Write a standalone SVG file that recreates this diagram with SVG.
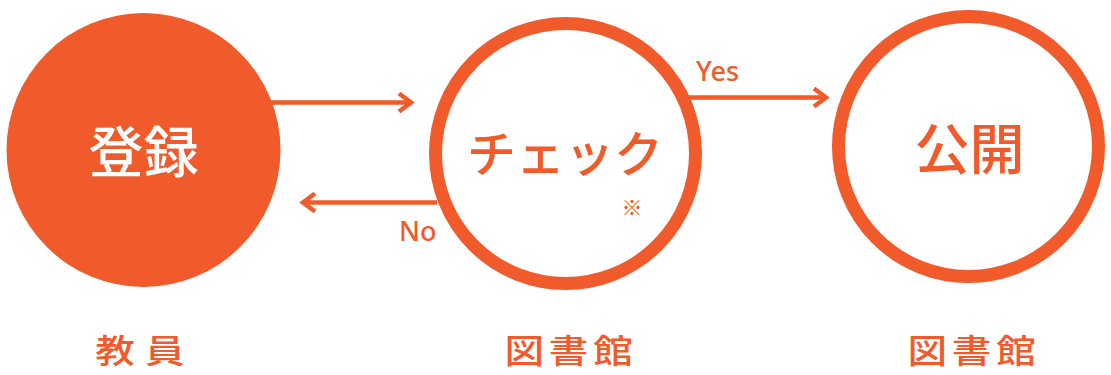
<svg xmlns="http://www.w3.org/2000/svg" width="1111" height="375" viewBox="0 0 1111 375">
<defs>
<style>
.c{fill:none;stroke:#F15A2B;stroke-width:13}
.ln{fill:none;stroke:#F15A2B;stroke-width:4.5;stroke-linecap:butt}
.hd{fill:none;stroke:#F15A2B;stroke-width:4.5;stroke-linejoin:miter}
.jp{font-family:"Noto Sans CJK JP","Noto Sans",sans-serif;text-anchor:middle}
.lbl{font-size:33px;font-weight:500;fill:#F15A2B}
.lat{font-family:"Noto Sans","Open Sans",sans-serif;fill:#F15A2B;font-size:27px;font-weight:500}
.o{fill:#F15A2B}
</style>
</defs>
<rect width="1111" height="375" fill="#ffffff"/>
<g id="node-register">
<circle cx="143.5" cy="150" r="137" fill="#F15A2B"/>
<text class="jp" x="143.5" y="172" font-size="55" font-weight="500" fill="#ffffff">登録</text>
<text class="jp lbl" transform="translate(145,363) scale(1.2,1)" x="0" y="0" letter-spacing="8.5">教員</text>
</g>
<g id="node-check">
<circle class="c" cx="565.5" cy="153.5" r="130"/>
<text class="jp o" x="565" y="172" font-size="49" font-weight="500">チェック</text>
<text class="jp o" x="632" y="215" font-size="21">※</text>
<text class="jp lbl" transform="translate(571,363) scale(1.2,1)" x="0" y="0" letter-spacing="4">図書館</text>
</g>
<g id="node-publish">
<circle class="c" cx="968.5" cy="146.5" r="130"/>
<text class="jp o" x="969.5" y="169" font-size="55" font-weight="500">公開</text>
<text class="jp lbl" transform="translate(974,363) scale(1.2,1)" x="0" y="0" letter-spacing="4">図書館</text>
</g>
<g id="connectors">
<line class="ln" x1="271" y1="102.5" x2="411" y2="102.5"/>
<polyline class="hd" points="399,93.5 411,102.5 399,111.5"/>
<line class="ln" x1="437" y1="202.5" x2="303" y2="202.5"/>
<polyline class="hd" points="315,193.5 303,202.5 315,211.5"/>
<line class="ln" x1="686" y1="97.5" x2="826" y2="97.5"/>
<polyline class="hd" points="814,88.5 826,97.5 814,106.5"/>
<text class="lat" x="696" y="81">Yes</text>
<text class="lat" x="399" y="241">No</text>
</g>
</svg>
